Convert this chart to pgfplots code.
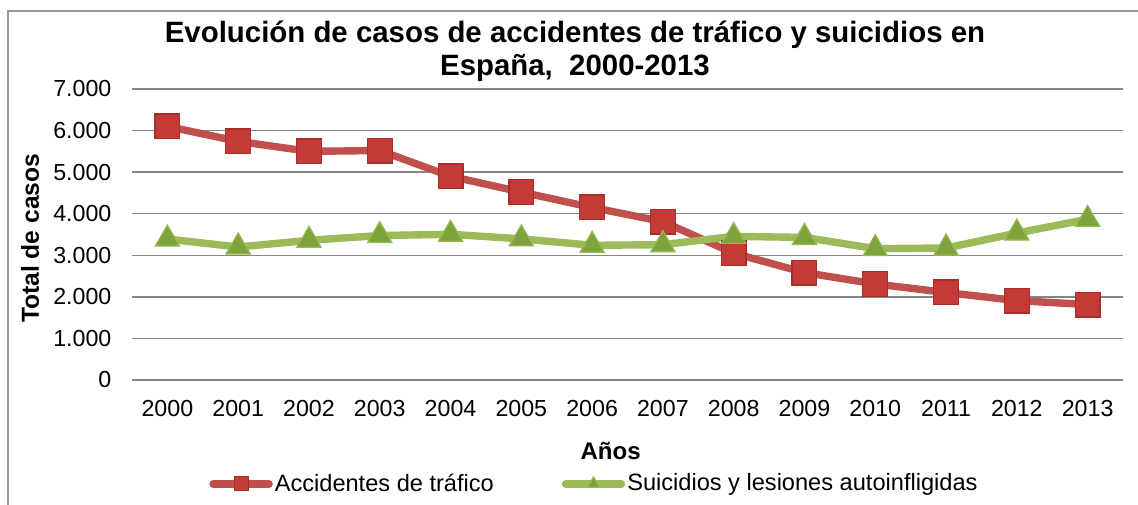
\documentclass[border=0pt]{standalone}
\usepackage{fontspec}
\setmainfont{Liberation Sans}
\usepackage{pgfplots}
\pgfplotsset{compat=1.18}

\definecolor{redline}{RGB}{192,80,77}
\definecolor{redfill}{RGB}{196,58,54}
\definecolor{reddraw}{RGB}{170,45,42}
\definecolor{greenline}{RGB}{155,187,89}
\definecolor{greenfill}{RGB}{125,163,58}
\definecolor{greendraw}{RGB}{150,185,85}
\definecolor{gridgray}{RGB}{134,134,134}
\definecolor{bordergray}{RGB}{150,150,150}

\begin{document}
\begin{tikzpicture}
\useasboundingbox (0,0) rectangle (569pt,252pt);
\fill[white] (0,0) rectangle (569pt,252pt);
\draw[line width=0.8pt, bordergray] (4pt,-20pt) -- (4pt,246.5pt) -- (600pt,246.5pt);
\begin{axis}[
  at={(66pt,62pt)}, anchor=south west,
  width=495.5pt, height=145.5pt, scale only axis,
  xmin=-0.5, xmax=13.5, ymin=0, ymax=7000,
  xtick={0,...,13},
  xticklabels={2000,2001,2002,2003,2004,2005,2006,2007,2008,2009,2010,2011,2012,2013},
  ytick={0,1000,2000,3000,4000,5000,6000,7000},
  ymajorgrids, grid style={gridgray, line width=0.75pt},
  axis line style={draw=none},
  major tick length=0pt,
  tick label style={font=\fontsize{11.6}{13}\selectfont},
  yticklabel style={xshift=-6.8pt},
  xticklabel style={yshift=-6.5pt},
  /pgf/number format/.cd, 1000 sep={.}, assume math mode=true, /pgfplots/.cd,
  every axis title shift=0pt,
  title={Evolución de casos de accidentes de tráfico y suicidios en\\España,~ 2000-2013},
  title style={at={(axis description cs:0.447,1.129)}, anchor=center, align=center,
    font=\bfseries\fontsize{14.7}{16.5}\selectfont},
  xlabel={Años},
  xlabel style={at={(axis description cs:0.483,-0.244)}, anchor=center, font=\bfseries\fontsize{12}{14}\selectfont},
  ylabel={Total de casos},
  ylabel style={at={(axis description cs:-0.1029,0.487)}, anchor=center, rotate=0, font=\bfseries\fontsize{12.3}{14}\selectfont},
  legend columns=2,
  legend style={at={(axis description cs:0.0777,-0.357)}, anchor=west, draw=none, fill=none,
    inner sep=0pt, font=\fontsize{11.8}{13}\selectfont,
    nodes={inner sep=1pt},
    /tikz/every even column/.append style={column sep=33pt}},
  legend image code/.code={
    \draw[#1, mark size=3.5pt, line cap=round, mark repeat=2, mark phase=2]
      plot coordinates {(0pt,0pt) (14pt,0pt) (28pt,0pt)};
  },
]
\addplot[redline, line width=3.7pt, mark=square*, mark size=6.2pt,
  mark options={fill=redfill, draw=reddraw, line width=0.6pt}]
  coordinates {(0,6100) (1,5740) (2,5500) (3,5520) (4,4900) (5,4520) (6,4150)
               (7,3810) (8,3050) (9,2585) (10,2310) (11,2105) (12,1910) (13,1815)};
\addlegendentry{Accidentes de tráfico}
\addplot[greenline, line width=3.7pt, mark=triangle*, mark size=7pt,
  mark options={fill=greenfill, draw=greendraw, line width=0.6pt}]
  coordinates {(0,3390) (1,3200) (2,3360) (3,3475) (4,3505) (5,3395) (6,3240)
               (7,3255) (8,3455) (9,3430) (10,3160) (11,3175) (12,3535) (13,3865)};
\addlegendentry{Suicidios y lesiones autoinfligidas}
\end{axis}
\end{tikzpicture}
\end{document}
